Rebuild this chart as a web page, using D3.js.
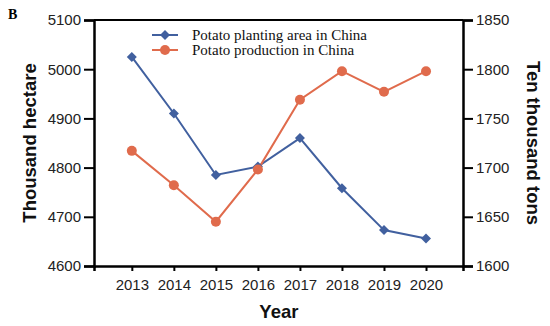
<!DOCTYPE html>
<html lang="en">
<head>
	<meta charset="utf-8">
	<title>Potato in China</title>
	<script src="https://d3js.org/d3.v7.min.js"></script>
	<style type="text/css">
		body {
			margin: 0;
			background: #fff;
		}

		.tick text {
			font-family: Arial, "Liberation Sans", sans-serif;
			font-size: 15px;
			fill: #222;
		}

		.tick line,
		path.domain {
			stroke: #000;
		}

		.axis-title {
			font-family: Arial, "Liberation Sans", sans-serif;
			font-weight: bold;
			font-size: 18.5px;
			fill: #111;
		}

		.legend text {
			font-family: "Liberation Serif", "Times New Roman", serif;
			font-size: 15px;
			fill: #111;
		}
	</style>
</head>
<body>
	<div id="vis"></div>
	<script type="text/javascript">

		/* Data */
		/* ==== */

		const years = [2013, 2014, 2015, 2016, 2017, 2018, 2019, 2020];
		const plantingArea = [5025, 4910, 4785, 4802, 4860, 4758, 4673, 4656];  // thousand hectare
		const production = [1717, 1682, 1645, 1698, 1769, 1798, 1777, 1798];    // ten thousand tons
		const leftTicks = [4600, 4700, 4800, 4900, 5000, 5100];
		const rightTicks = [1600, 1650, 1700, 1750, 1800, 1850];
		const seriesNames = ['Potato planting area in China', 'Potato production in China'];

		const blue = '#41609f';
		const orange = '#e06b4c';

		/* Set up */
		/* ====== */

		var width = 550, height = 326;
		var margin = { top: 20, left: 94, bottom: 60, right: 87 };
		var w = width - margin.left - margin.right;
		var h = height - margin.top - margin.bottom;

		var svg = d3.select('#vis')
			.append('svg')
			.attr('width', width)
			.attr('height', height);

		var g = svg.append('g')
			.attr('transform', 'translate(' + margin.left + ',' + margin.top + ')');

		/* Scales */

		var xScale = d3.scaleLinear()
			.domain([2012.1, 2020.88])
			.range([0, w]);

		var yLeft = d3.scaleLinear()
			.domain([4600, 5100])
			.range([h, 0]);

		var yRight = d3.scaleLinear()
			.domain([1600, 1850])
			.range([h, 0]);

		/* Frame */

		g.append('line')
			.attr('x1', 0).attr('x2', w)
			.attr('y1', 0).attr('y2', 0)
			.attr('stroke', '#000').attr('stroke-width', 2);

		/* Axes */

		g.append('g')
			.attr('transform', 'translate(0,' + h + ')')
			.call(d3.axisBottom(xScale)
				.tickValues(years)
				.tickFormat(d3.format('d'))
				.tickSizeOuter(0)
				.tickSize(5)
				.tickPadding(8));

		g.append('g')
			.call(d3.axisLeft(yLeft)
				.tickValues(leftTicks)
				.tickFormat(d3.format('d'))
				.tickSizeOuter(0)
				.tickSize(10)
				.tickPadding(3));

		g.append('g')
			.attr('transform', 'translate(' + w + ',0)')
			.call(d3.axisRight(yRight)
				.tickValues(rightTicks)
				.tickFormat(d3.format('d'))
				.tickSizeOuter(0)
				.tickSize(10)
				.tickPadding(3));

		g.selectAll('path.domain').attr('stroke-width', 2.5);
		g.selectAll('.tick line').attr('stroke-width', 2);

		/* Axis titles */

		svg.append('text')
			.attr('class', 'axis-title')
			.attr('transform', 'translate(30,' + (margin.top + h / 2) + ') rotate(-90)')
			.attr('text-anchor', 'middle')
			.attr('dy', '0.35em')
			.text('Thousand hectare');

		svg.append('text')
			.attr('class', 'axis-title')
			.attr('transform', 'translate(533,' + (margin.top + h / 2) + ') rotate(90)')
			.attr('text-anchor', 'middle')
			.attr('dy', '0.35em')
			.text('Ten thousand tons');

		svg.append('text')
			.attr('class', 'axis-title')
			.attr('x', margin.left + xScale(2016.5))
			.attr('y', 318)
			.attr('text-anchor', 'middle')
			.text('Year');

		svg.append('text')
			.attr('x', 8)
			.attr('y', 19)
			.style('font-family', '"Liberation Serif", serif')
			.style('font-weight', 'bold')
			.style('font-size', '14px')
			.text('B');

		/* Lines */

		var areaLine = d3.line()
			.x(function (d, i) { return xScale(years[i]); })
			.y(function (d) { return yLeft(d); });

		var prodLine = d3.line()
			.x(function (d, i) { return xScale(years[i]); })
			.y(function (d) { return yRight(d); });

		g.append('path')
			.datum(plantingArea)
			.attr('d', areaLine)
			.attr('fill', 'none')
			.attr('stroke', blue)
			.attr('stroke-width', 2);

		g.append('path')
			.datum(production)
			.attr('d', prodLine)
			.attr('fill', 'none')
			.attr('stroke', orange)
			.attr('stroke-width', 2);

		// square turned 45 degrees
		var diamond = d3.symbol().type(d3.symbolSquare).size(50);

		g.selectAll('.area-pt')
			.data(plantingArea).enter()
			.append('path')
			.attr('class', 'area-pt')
			.attr('d', diamond)
			.attr('transform', function (d, i) { return 'translate(' + xScale(years[i]) + ',' + yLeft(d) + ') rotate(45)'; })
			.attr('fill', blue);

		g.selectAll('.prod-pt')
			.data(production).enter()
			.append('circle')
			.attr('class', 'prod-pt')
			.attr('cx', function (d, i) { return xScale(years[i]); })
			.attr('cy', function (d) { return yRight(d); })
			.attr('r', 5)
			.attr('fill', orange);

		/* Legend */

		var legend = svg.append('g').attr('class', 'legend');
		var colors = [blue, orange];

		seriesNames.forEach(function (name, i) {
			var y = 35 + i * 15;
			legend.append('line')
				.attr('x1', 152).attr('x2', 178)
				.attr('y1', y).attr('y2', y)
				.attr('stroke', colors[i]).attr('stroke-width', 2);
			if (i === 0) {
				legend.append('path')
					.attr('d', diamond)
					.attr('transform', 'translate(165,' + y + ') rotate(45)')
					.attr('fill', colors[i]);
			} else {
				legend.append('circle')
					.attr('cx', 165).attr('cy', y).attr('r', 5)
					.attr('fill', colors[i]);
			}
			legend.append('text')
				.attr('x', 192)
				.attr('y', y)
				.attr('dy', '0.35em')
				.text(name);
		});

	</script>
</body>
</html>
